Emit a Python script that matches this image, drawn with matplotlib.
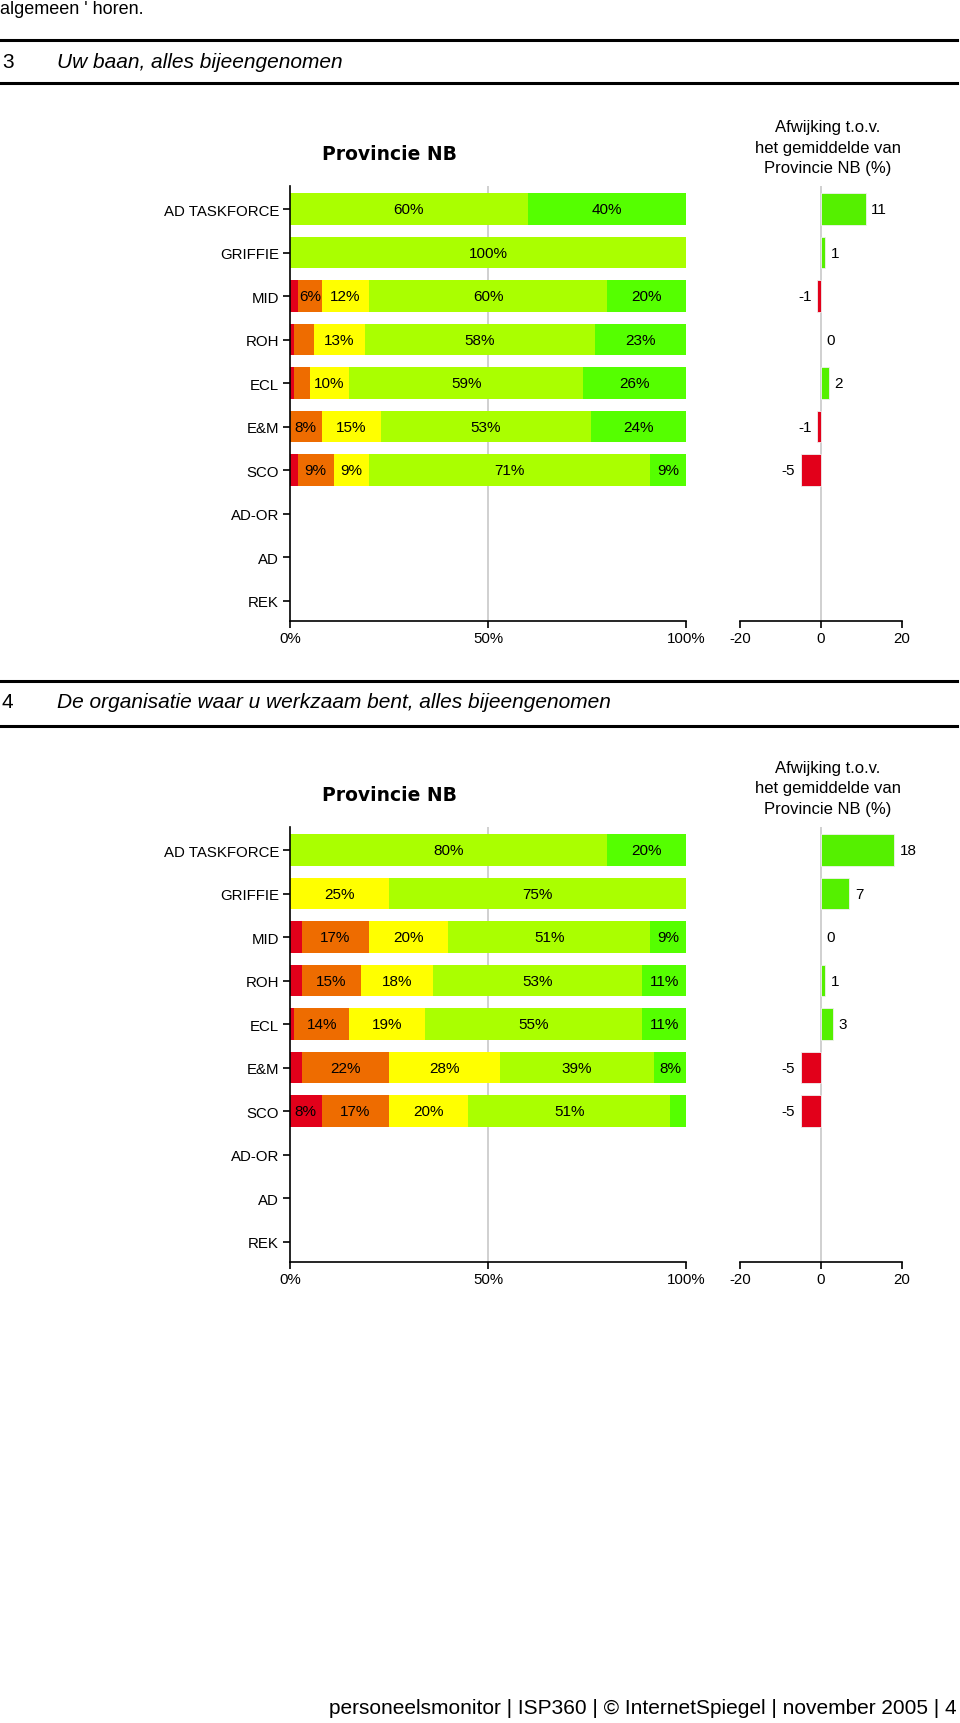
import numpy as np
import matplotlib
matplotlib.use("Agg")
import matplotlib.pyplot as plt

# DATA
rows = ["AD TASKFORCE", "GRIFFIE", "MID", "ROH", "ECL", "E&M", "SCO", "AD-OR", "AD", "REK"]

# section 3: Uw baan
red1 = [0, 0, 2, 1, 1, 0, 2, 0, 0, 0]
orange1 = [0, 0, 6, 5, 4, 8, 9, 0, 0, 0]
yellow1 = [0, 0, 12, 13, 10, 15, 9, 0, 0, 0]
lime1 = [60, 100, 60, 58, 59, 53, 71, 0, 0, 0]
green1 = [40, 0, 20, 23, 26, 24, 9, 0, 0, 0]
dev1 = [11, 1, -1, 0, 2, -1, -5, None, None, None]

# section 4: De organisatie
red2 = [0, 0, 3, 3, 1, 3, 8, 0, 0, 0]
orange2 = [0, 0, 17, 15, 14, 22, 17, 0, 0, 0]
yellow2 = [0, 25, 20, 18, 19, 28, 20, 0, 0, 0]
lime2 = [80, 75, 51, 53, 55, 39, 51, 0, 0, 0]
green2 = [20, 0, 9, 11, 11, 8, 4, 0, 0, 0]
dev2 = [18, 7, 0, 1, 3, -5, -5, None, None, None]

seg_colors = ["#E2001A", "#EE6C00", "#FFFF00", "#AAFF00", "#55FF00"]
dev_pos = "#55F000"
dev_neg = "#E2001A"

W, H = 960, 1724
fig = plt.figure(figsize=(W / 100, H / 100), dpi=100)

SANS = "Liberation Sans"
FS = 10.8  # chart text


def px_axes(left, top, right, bottom):
    return fig.add_axes([left / W, 1 - bottom / H, (right - left) / W, (bottom - top) / H])


def fig_text(x, y, s, **kw):
    fig.text(x / W, 1 - y / H, s, **kw)


def hrule(y, lw=2.2):
    fig.add_artist(plt.Line2D([0, 957 / W], [1 - y / H, 1 - y / H], color="black", lw=lw))


def chart(y0, series, dev):
    # y0 = pixel offset of the chart block
    ylim = (9.47, -0.53)
    ax = px_axes(290, y0 + 187, 686, y0 + 622)
    ax.set_xlim(0, 100)
    ax.set_ylim(*ylim)
    ax.axvline(50, color="#c8c8c8", lw=1.2, zorder=0)
    y = np.arange(len(rows))
    left = np.zeros(len(rows))
    for vals, col in zip(series, seg_colors):
        vals = np.array(vals, dtype=float)
        ax.barh(y, vals, left=left, height=0.73, color=col, lw=0, zorder=2)
        for i, v in enumerate(vals):
            if v >= 6:
                ax.text(left[i] + v / 2, i, f"{int(v)}%", ha="center", va="center",
                        fontsize=11, family=SANS, zorder=3)
        left += vals
    for s in ("top", "right"):
        ax.spines[s].set_visible(False)
    ax.set_yticks(y)
    ax.set_yticklabels(rows, family=SANS, fontsize=FS)
    ax.set_xticks([0, 50, 100])
    ax.set_xticklabels(["0%", "50%", "100%"], family=SANS, fontsize=FS)
    ax.tick_params(axis="both", length=5, width=1.2, pad=3)
    ax.tick_params(axis="x", pad=2)
    ax.spines["left"].set_linewidth(1.2)
    ax.spines["bottom"].set_linewidth(1.2)

    fig_text(389, y0 + 155, "Provincie NB", ha="center", va="center",
             fontsize=13.5, fontweight="bold", family="DejaVu Sans")

    # deviation panel
    dx = px_axes(740, y0 + 187, 902, y0 + 622)
    dx.set_xlim(-20, 20)
    dx.set_ylim(*ylim)
    dx.axvline(0, color="#c8c8c8", lw=1.2, zorder=0)
    for i, v in enumerate(dev):
        if v is None:
            continue
        col = dev_pos if v >= 0 else dev_neg
        if v != 0:
            dx.barh(i, v, height=0.73, color=col, edgecolor="#f0f0f0", lw=0.6, zorder=2)
        if v >= 0:
            dx.annotate(str(v), (v, i), xytext=(4, 0), textcoords="offset points",
                        ha="left", va="center", fontsize=11, family=SANS)
        else:
            dx.annotate(str(v), (v, i), xytext=(-4, 0), textcoords="offset points",
                        ha="right", va="center", fontsize=11, family=SANS)
    for s in ("top", "right", "left"):
        dx.spines[s].set_visible(False)
    dx.spines["bottom"].set_linewidth(1.2)
    dx.set_yticks([])
    dx.set_xticks([-20, 0, 20])
    dx.set_xticklabels(["-20", "0", "20"], family=SANS, fontsize=FS)
    dx.tick_params(axis="x", length=5, width=1.2, pad=2)

    fig_text(828, y0 + 148, "Afwijking t.o.v.\nhet gemiddelde van\nProvincie NB (%)",
             ha="center", va="center", fontsize=12, family=SANS, linespacing=1.45)


# page header
fig_text(0, 14, "algemeen ' horen.", ha="left", va="baseline", fontsize=13, family=SANS)

hrule(41)
fig_text(2, 63, "3", ha="left", va="center", fontsize=15, family=SANS)
fig_text(57, 63, "Uw baan, alles bijeengenomen", ha="left", va="center",
         fontsize=15, family=SANS, style="italic")
hrule(84)

chart(0, [red1, orange1, yellow1, lime1, green1], dev1)

hrule(682)
fig_text(2, 703, "4", ha="left", va="center", fontsize=15, family=SANS)
fig_text(57, 703, "De organisatie waar u werkzaam bent, alles bijeengenomen", ha="left",
         va="center", fontsize=15, family=SANS, style="italic")
hrule(727)

chart(641, [red2, orange2, yellow2, lime2, green2], dev2)

fig_text(957, 1709, "personeelsmonitor | ISP360 | \u00a9 InternetSpiegel | november 2005 | 4",
         ha="right", va="center", fontsize=15, family=SANS)

fig.savefig("out.png", dpi=100)
